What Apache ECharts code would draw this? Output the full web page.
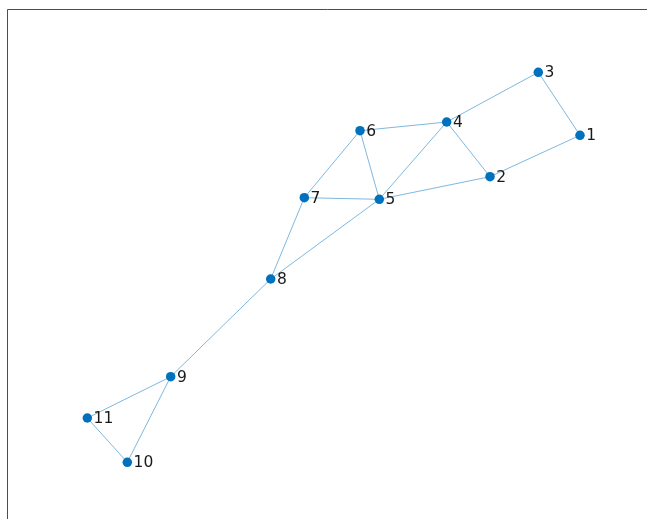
<!DOCTYPE html>
<html>
<head>
<meta charset="utf-8">
<script src="https://cdn.jsdelivr.net/npm/echarts@6/dist/echarts.min.js"></script>
<style>html,body{margin:0;padding:0;background:#fff}#c{width:647px;height:519px}</style>
</head>
<body>
<div id="c"></div>
<script>
var nodeNames = ['1','2','3','4','5','6','7','8','9','10','11'];
var nodeX = [580, 490, 538.3, 446.7, 379.3, 360, 304.3, 270.7, 170.7, 127.3, 87.3];
var nodeY = [135.3, 176.7, 72.3, 122, 199.3, 130.7, 197.7, 279, 376.7, 462.3, 418];
var edgeSource = ['3','3','1','2','2','4','4','6','6','7','7','8','8','9','9','11'];
var edgeTarget = ['1','4','2','4','5','6','5','5','7','5','8','5','9','11','10','10'];

var chart = echarts.init(document.getElementById('c'), null, {renderer: 'canvas'});
var nodes = nodeNames.map(function (n, i) {
  return {name: n, value: [nodeX[i], nodeY[i]]};
});
var links = edgeSource.map(function (s, i) {
  return {source: s, target: edgeTarget[i]};
});
chart.setOption({
  animation: false,
  grid: {left: 0, top: 0, width: 647, height: 519, show: false},
  xAxis: {type: 'value', min: 0, max: 647, show: false},
  yAxis: {type: 'value', min: 0, max: 519, inverse: true, show: false},
  graphic: [{
    type: 'rect',
    shape: {x: 7.5, y: 9.5, width: 700, height: 600},
    style: {fill: 'none', stroke: '#4d4d4d', lineWidth: 1},
    silent: true
  }],
  series: [{
    type: 'graph',
    coordinateSystem: 'cartesian2d',
    layout: 'none',
    symbol: 'circle',
    symbolSize: 9.5,
    itemStyle: {color: '#0072BD'},
    lineStyle: {color: 'rgba(0,114,189,0.5)', width: 1, opacity: 1, curveness: 0},
    label: {
      show: true,
      position: 'right',
      distance: 1.5,
      offset: [0, 1],
      color: '#1a1a1a',
      fontSize: 15.5,
      fontFamily: 'DejaVu Sans',
      formatter: '{b}'
    },
    emphasis: {disabled: true},
    data: nodes,
    links: links
  }]
});
</script>
</body>
</html>
